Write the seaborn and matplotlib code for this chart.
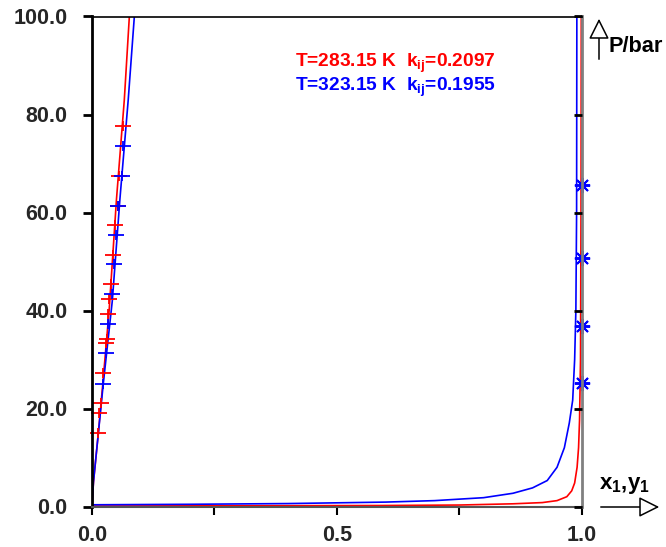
import numpy as np
import pandas as pd
import matplotlib
matplotlib.use("Agg")
import matplotlib.pyplot as plt
from matplotlib.path import Path
from matplotlib.patches import FancyArrowPatch
import seaborn as sns

# ---------------- data ----------------
# T = 283.15 K (red)
red_bub_x = [0, 0.003, 0.013, 0.022, 0.035, 0.050, 0.066, 0.0763]
red_bub_P = [0, 5, 15, 25, 40, 62.7, 83, 100]
red_dew_x = [0, 0.3, 0.59, 0.75, 0.86, 0.92, 0.95, 0.97, 0.98, 0.986, 0.991,
             0.994, 0.996, 0.998, 0.999, 0.9995]
red_dew_P = [0.1, 0.15, 0.2, 0.3, 0.55, 0.8, 1.2, 2.0, 3.2, 4.8, 8,
             12, 17.6, 30, 60, 100]
red_exp_x = [0.063, 0.056, 0.053, 0.047, 0.042, 0.038, 0.035, 0.033, 0.030, 0.029,
             0.023, 0.018, 0.015, 0.013]
red_exp_P = [77.6, 67.5, 61.3, 57.4, 51.4, 45.4, 42.4, 39.3, 34.2, 33.3,
             27.2, 21.2, 19.1, 15.1]

# T = 323.15 K (blue)
blue_bub_x = [0, 0.003, 0.013, 0.023, 0.0415, 0.057, 0.074, 0.0865]
blue_bub_P = [0, 5, 15, 25, 42, 62.7, 83, 100]
blue_dew_x = [0, 0.2, 0.4, 0.6, 0.7, 0.8, 0.86, 0.9, 0.93, 0.95, 0.965, 0.975,
              0.982, 0.986, 0.9885, 0.990, 0.9905]
blue_dew_P = [0.35, 0.45, 0.6, 0.9, 1.2, 1.8, 2.7, 3.8, 5.3, 8, 12, 17,
              21.7, 30, 40, 60, 100]
blue_exp_x = [0.064, 0.061, 0.054, 0.050, 0.044, 0.040, 0.033, 0.028, 0.023]
blue_exp_P = [73.5, 67.5, 61.3, 55.4, 49.5, 43.4, 37.3, 31.3, 25.1]
blue_vap_y = [1.0, 1.0, 1.0, 1.0]
blue_vap_P = [65.6, 50.8, 36.9, 25.2]

legend_lines = ["T=283.15 K  k$_{\\mathbf{ij}}$=0.2097",
                "T=323.15 K  k$_{\\mathbf{ij}}$=0.1955"]
x_ticks = [0.0, 0.5, 1.0]
x_tick_labels = ["0.0", "0.5", "1.0"]
y_ticks = [0, 20, 40, 60, 80, 100]
y_tick_labels = ["0.0", "20.0", "40.0", "60.0", "80.0", "100.0"]

RED = "#ff0000"
BLUE = "#0000ff"

# ---------------- style ----------------
sns.set_theme(style="white")
plt.rcParams["font.family"] = ["Liberation Sans", "DejaVu Sans"]
plt.rcParams["font.weight"] = "bold"
plt.rcParams["mathtext.fontset"] = "custom"
plt.rcParams["mathtext.rm"] = "Liberation Sans:bold"
plt.rcParams["mathtext.bf"] = "Liberation Sans:bold"
plt.rcParams["mathtext.it"] = "Liberation Sans:bold"

W, H = 666, 547
fig = plt.figure(figsize=(W / 100, H / 100), dpi=100)
x0, x1 = 92, 581.5
yb, yt = 506.5, 16.5
ax = fig.add_axes([x0 / W, (H - yb) / H, (x1 - x0) / W, (yb - yt) / H])

plus_wide = Path([(-1, 0), (1, 0), (0, -0.55), (0, 0.55)],
                 [Path.MOVETO, Path.LINETO, Path.MOVETO, Path.LINETO])

def line(xs, ys, color, lw=1.2):
    df = pd.DataFrame({"x": xs, "P": ys})
    sns.lineplot(data=df, x="x", y="P", sort=False, estimator=None,
                 color=color, linewidth=lw, ax=ax)

def pts(xs, ys, color, marker, ms, mew):
    df = pd.DataFrame({"x": xs, "P": ys})
    sns.lineplot(data=df, x="x", y="P", sort=False, estimator=None,
                 linestyle="", marker=marker, markersize=ms,
                 markeredgewidth=mew, markeredgecolor=color,
                 markerfacecolor="none", color=color, ax=ax, clip_on=False)

line(red_dew_x, red_dew_P, RED)
line(blue_dew_x, blue_dew_P, BLUE)
line(red_bub_x, red_bub_P, RED)
line(blue_bub_x, blue_bub_P, BLUE)
pts(red_exp_x, red_exp_P, RED, plus_wide, 12, 1.3)
pts(blue_exp_x, blue_exp_P, BLUE, plus_wide, 12, 1.3)
pts(blue_vap_y, blue_vap_P, BLUE, (8, 2, 0), 11, 1.4)

ax.set_xlim(0, 1.0)
ax.set_ylim(0, 100)
ax.set_xlabel("")
ax.set_ylabel("")

ax.set_xticks(x_ticks)
ax.set_xticklabels(x_tick_labels)
ax.set_xticks([0.25, 0.75], minor=True)
ax.set_yticks(y_ticks)
ax.set_yticklabels(y_tick_labels)

for lab in ax.get_xticklabels() + ax.get_yticklabels():
    lab.set_fontweight("bold")
    lab.set_fontsize(15.5)

ax.tick_params(axis="x", which="both", direction="out", length=5.5, width=1.5,
               color="black", bottom=True, top=False, pad=8)
ax.tick_params(axis="y", which="both", direction="out", length=6.5, width=2,
               color="black", left=True, right=False, pad=11)

ax.spines["left"].set_color("black")
ax.spines["top"].set_color("black")
ax.spines["left"].set_linewidth(2)
ax.spines["top"].set_linewidth(1.2)
ax.spines["bottom"].set_color("#555555")
ax.spines["bottom"].set_linewidth(1.5)
ax.spines["right"].set_color("#808080")
ax.spines["right"].set_linewidth(2)
for s in ax.spines.values():
    s.set_visible(True)

# inward ticks on the right spine
ax2 = ax.twinx()
ax2.set_ylim(0, 100)
ax2.set_yticks(y_ticks)
ax2.tick_params(axis="y", direction="in", length=6, width=2, color="black",
                labelright=False, right=True)
for s in ax2.spines.values():
    s.set_visible(False)
ax2.grid(False)
ax.grid(False)

# legend-like texts
fig.text(295 / W, (H - 63) / H, legend_lines[0], color=RED, fontsize=13.8,
         fontweight="bold", va="center", ha="left")
fig.text(295 / W, (H - 87) / H, legend_lines[1], color=BLUE, fontsize=13.8,
         fontweight="bold", va="center", ha="left")

def pix(x, y):
    return (x / W, (H - y) / H)

arr_kw = dict(arrowstyle="-|>,head_length=0.9,head_width=0.45",
              mutation_scale=14, edgecolor="black", facecolor="white",
              linewidth=1.1, transform=fig.transFigure)
fig.add_artist(FancyArrowPatch(pix(599, 62), pix(599, 16), **arr_kw))
fig.add_artist(FancyArrowPatch(pix(598, 507), pix(662, 507), **arr_kw))

fig.text(609 / W, (H - 46) / H, "P/bar", fontsize=15.7, fontweight="bold",
         va="center", ha="left", color="black")
fig.text(599 / W, (H - 486) / H, "x$_{\\mathbf{1}}$,y$_{\\mathbf{1}}$", fontsize=16,
         fontweight="bold", va="center", ha="left", color="black")

fig.savefig("out.png", dpi=100)
